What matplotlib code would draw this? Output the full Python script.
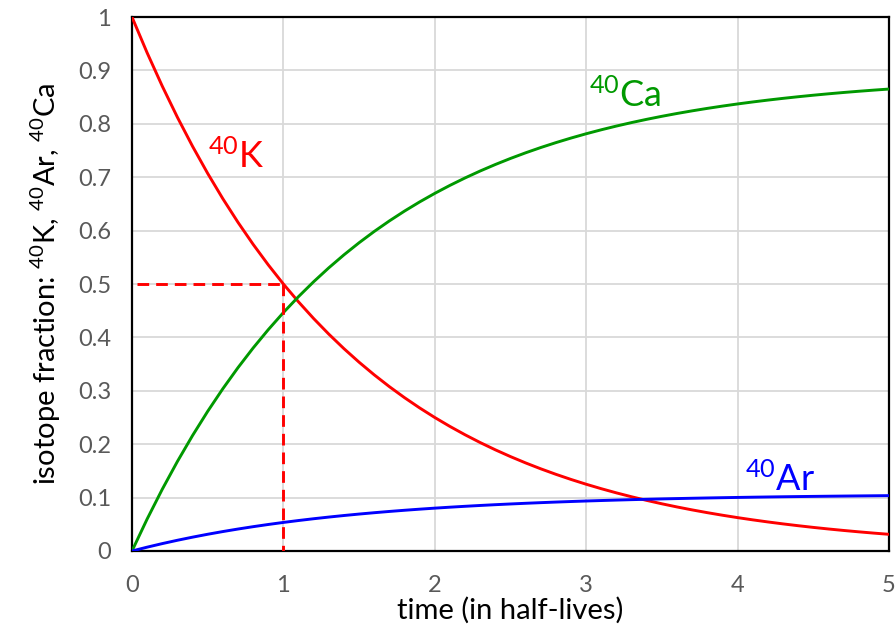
import numpy as np
import matplotlib
matplotlib.use("Agg")
import matplotlib.pyplot as plt

plt.rcParams['font.family'] = ['Lato', 'DejaVu Sans']
plt.rcParams['mathtext.fontset'] = 'custom'
plt.rcParams['mathtext.rm'] = 'Lato'
plt.rcParams['mathtext.it'] = 'Lato'

time = np.linspace(0, 5, 51)
k40 = [1.0, 0.93303, 0.87055, 0.81225, 0.75786, 0.70711, 0.65975, 0.61557, 0.57435, 0.53589,
       0.5, 0.46652, 0.43528, 0.40613, 0.37893, 0.35355, 0.32988, 0.30779, 0.28717, 0.26794,
       0.25, 0.23326, 0.21764, 0.20306, 0.18946, 0.17678, 0.16494, 0.15389, 0.14359, 0.13397,
       0.125, 0.11663, 0.10882, 0.10153, 0.09473, 0.08839, 0.08247, 0.07695, 0.07179, 0.06699,
       0.0625, 0.05832, 0.05441, 0.05077, 0.04737, 0.04419, 0.04123, 0.03847, 0.0359, 0.03349,
       0.03125]
ca40 = [0.0, 0.0598, 0.1156, 0.16766, 0.21623, 0.26155, 0.30384, 0.3433, 0.38011, 0.41445,
        0.4465, 0.4764, 0.50429, 0.53033, 0.55462, 0.57728, 0.59842, 0.61814, 0.63656, 0.65373,
        0.66975, 0.6847, 0.69865, 0.71167, 0.72381, 0.73514, 0.74571, 0.75558, 0.76477, 0.77336,
        0.78138, 0.78885, 0.79582, 0.80233, 0.80841, 0.81407, 0.81935, 0.82428, 0.82889, 0.83318,
        0.83719, 0.84092, 0.84441, 0.84766, 0.8507, 0.85354, 0.85618, 0.85865, 0.86094, 0.86309,
        0.86509]
ar40 = [0.0, 0.00717, 0.01385, 0.02009, 0.02591, 0.03134, 0.03641, 0.04113, 0.04554, 0.04966,
        0.0535, 0.05708, 0.06043, 0.06354, 0.06645, 0.06917, 0.0717, 0.07407, 0.07627, 0.07833,
        0.08025, 0.08204, 0.08371, 0.08527, 0.08673, 0.08808, 0.08935, 0.09053, 0.09164, 0.09267,
        0.09363, 0.09452, 0.09536, 0.09614, 0.09686, 0.09754, 0.09818, 0.09877, 0.09932, 0.09983,
        0.10031, 0.10076, 0.10118, 0.10157, 0.10193, 0.10227, 0.10259, 0.10288, 0.10316, 0.10342,
        0.10366]

half_life_t = 1.0
half_frac = 0.5
dash_start = 0.03

xticks = [0, 1, 2, 3, 4, 5]
yticks = [0, 0.1, 0.2, 0.3, 0.4, 0.5, 0.6, 0.7, 0.8, 0.9, 1]
ytick_labels = ['0', '0.1', '0.2', '0.3', '0.4', '0.5', '0.6', '0.7', '0.8', '0.9', '1']

RED = '#FF0000'
GREEN = '#009900'
BLUE = '#0000FF'
GRAY = '#595959'

fig = plt.figure(figsize=(8.96, 6.3), dpi=100)
ax = fig.add_axes([0.1473, 0.1254, 0.8449, 0.8476])

LW = 2.1
ax.plot(time, k40, color=RED, lw=LW, zorder=3)
ax.plot(time, ca40, color=GREEN, lw=LW, zorder=3)
ax.plot(time, ar40, color=BLUE, lw=LW, zorder=3)

ax.plot([dash_start, half_life_t], [half_frac, half_frac], color=RED, lw=LW,
        ls=(0, (4, 2.4)), zorder=4)
ax.plot([half_life_t, half_life_t], [half_frac, 0], color=RED, lw=LW,
        ls=(0, (4, 2.4)), zorder=4)

ax.set_xlim(0, 5)
ax.set_ylim(0, 1)
ax.set_xticks(xticks)
ax.set_yticks(yticks)
ax.set_yticklabels(ytick_labels)
ax.grid(True, color='#D9D9D9', lw=1.3, zorder=0)
ax.set_axisbelow(True)
ax.tick_params(axis='y', length=0, labelsize=17, labelcolor=GRAY, pad=15)
ax.tick_params(axis='x', length=0, labelsize=17, labelcolor=GRAY, pad=17)
for s in ax.spines.values():
    s.set_color('black')
    s.set_linewidth(1.6)

ax.set_xlabel('time (in half-lives)', fontsize=21, color='black', labelpad=1)
ax.set_ylabel(r'isotope fraction: $^{40}$K, $^{40}$Ar, $^{40}$Ca', fontsize=21,
              color='black', labelpad=11)

ax.text(0.50, 0.717, r'$^{40}$K', color=RED, fontsize=26, ha='left', va='baseline')
ax.text(3.02, 0.831, r'$^{40}$Ca', color=GREEN, fontsize=26, ha='left', va='baseline')
ax.text(4.05, 0.112, r'$^{40}$Ar', color=BLUE, fontsize=26, ha='left', va='baseline')

fig.savefig('out.png', dpi=100)
